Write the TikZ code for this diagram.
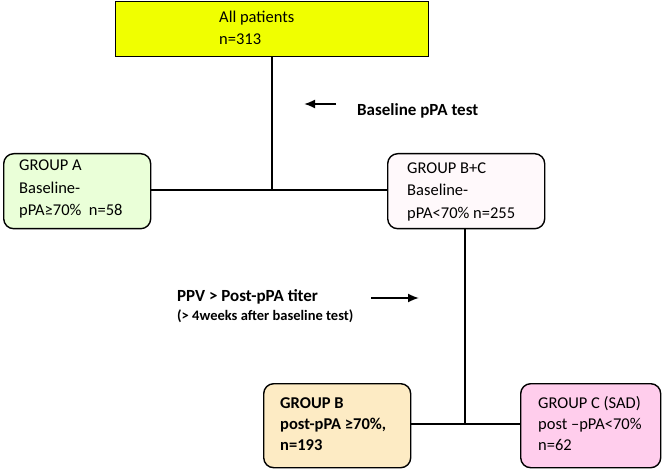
\documentclass[tikz,border=0pt]{standalone}
\usepackage{fontspec}
\setmainfont{Carlito}
\usetikzlibrary{arrows.meta}
\definecolor{cTop}{RGB}{240,255,0}
\definecolor{cA}{RGB}{234,255,216}
\definecolor{cBC}{RGB}{255,249,251}
\definecolor{cB}{RGB}{253,235,196}
\definecolor{cC}{RGB}{255,205,236}
\newcommand{\lines}[1]{\begin{tabular}{@{}l@{}}#1\end{tabular}}
\tikzset{
  grp/.style={draw=black, line width=1.4pt, rounded corners=10pt, inner sep=0pt, anchor=north west},
  topbox/.style={draw=black, line width=1.4pt, inner sep=0pt, anchor=north west},
  txt/.style={inner sep=0pt, anchor=west, font=\fontsize{16.5}{22.5}\selectfont},
  ln/.style={inner sep=0pt, anchor=base west, font=\fontsize{16.5}{22.5}\selectfont},
  conn/.style={line width=1.3pt},
  arr/.style={line width=1.8pt, -{Latex[length=11pt,width=9pt]}},
  lbl/.style={font=\bfseries\fontsize{17}{20}\selectfont, inner sep=0pt, anchor=base west}
}
\begin{document}
\begin{tikzpicture}[x=1pt,y=-1pt]
\useasboundingbox (0,0) rectangle (664,470);
% boxes
\node[topbox, fill=cTop, minimum width=313pt, minimum height=55pt] (top) at (115,1) {};
\node[grp, fill=cA, minimum width=147pt, minimum height=75pt] (A) at (3,153) {};
\node[grp, fill=cBC, minimum width=157pt, minimum height=75pt] (BC) at (387,153) {};
\node[grp, fill=cB, minimum width=147pt, minimum height=84pt] (B) at (263,383) {};
\node[grp, fill=cC, minimum width=140pt, minimum height=84pt] (C) at (520,383) {};
% texts
\node[txt, font=\fontsize{16.5}{22}\selectfont] (topt) at ([xshift=104pt]top.west) {\lines{All patients\\n=313}};
\node[ln] (At1) at (19,171) {GROUP A};
\node[ln] (At2) at (19,193.5) {Baseline-};
\node[ln] (At3) at (19,216) {pPA\symbol{"2265}70\%\hspace{0.45em}n=58};
\node[txt] (BCt) at ([xshift=20pt]BC.west) {\lines{GROUP B+C\\Baseline-\\pPA<70\% n=255}};
\node[txt, font=\bfseries\fontsize{16.5}{21}\selectfont] (Bt) at ([xshift=17pt]B.west) {\lines{GROUP B\\post-pPA \symbol{"2265}70\%,\\n=193}};
\node[txt, font=\fontsize{16.5}{21}\selectfont] (Ct) at ([xshift=18pt]C.west) {\lines{GROUP C (SAD)\\post –pPA<70\%\\n=62}};
% junctions
\coordinate (j1) at (272,190);
\coordinate (j2) at (465,424);
\draw[conn] (top.south -| j1) -- (j1);
\draw[conn] (A.east |- j1) -- (BC.west |- j1);
\draw[conn] (BC.south -| j2) -- (j2);
\draw[conn] (B.east |- j2) -- (C.west |- j2);
% arrows and labels
\coordinate (a1s) at (336,104);
\coordinate (a1e) at (304,104);
\draw[arr] (a1s) -- (a1e);
\node[lbl] (l1) at (357,116) {Baseline pPA test};
\coordinate (a2s) at (371,298);
\coordinate (a2e) at (419,298);
\draw[arr] (a2s) -- (a2e);
\node[lbl] (l2) at (177,302) {PPV > Post-pPA titer};
\node[lbl, font=\bfseries\fontsize{14.5}{17}\selectfont] (l3) at (177,320) {(> 4weeks after baseline test)};
\end{tikzpicture}
\end{document}
